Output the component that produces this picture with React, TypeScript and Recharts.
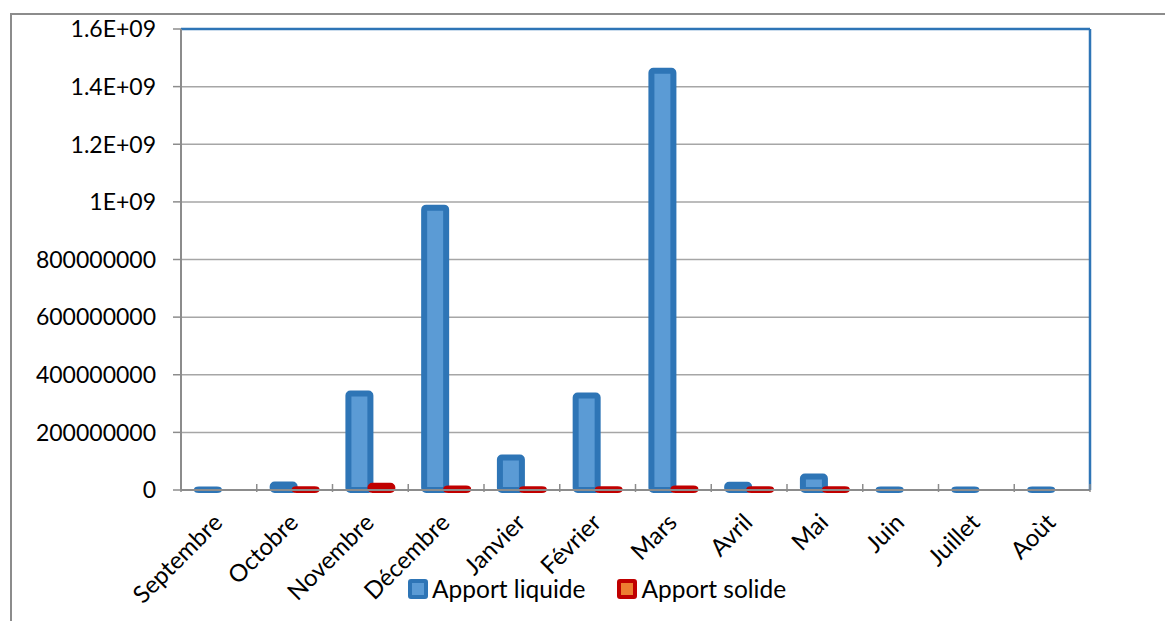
import React from 'react';
import { BarChart, Bar, XAxis, YAxis, CartesianGrid, ReferenceLine, Legend } from 'recharts';

// Monthly inflow volumes (liquid and solid)
const months = ['Septembre', 'Octobre', 'Novembre', 'Décembre', 'Janvier', 'Février', 'Mars', 'Avril', 'Mai', 'Juin', 'Juillet', 'Aoùt'];
const apportLiquide = [2e6, 1.9e7, 3.35e8, 9.8e8, 1.13e8, 3.28e8, 1.455e9, 1.8e7, 4.7e7, 2e6, 2e6, 2e6];
const apportSolide = [0, 3e6, 1.5e7, 5e6, 3e6, 3e6, 5e6, 3e6, 3e6, 0, 0, 0];

const seriesNames = ['Apport liquide', 'Apport solide'];
const seriesStroke = ['#2e75b6', '#c00000'];
const seriesFill = ['#5b9bd5', '#ed7d31'];

const yTicks = [0, 2e8, 4e8, 6e8, 8e8, 1e9, 1.2e9, 1.4e9, 1.6e9];
const yTickLabels = ['0', '200000000', '400000000', '600000000', '800000000', '1E+09', '1.2E+09', '1.4E+09', '1.6E+09'];

const data = months.map((m, i) => ({ month: m, liquide: apportLiquide[i], solide: apportSolide[i] }));

const FONT = 'Lato, "Open Sans", sans-serif';

const makeShape = (stroke: string, fill: string) => (props: any) => {
  const { x, y, width, height } = props;
  if (!height || height <= 0) return null;
  return (
    <rect x={x} y={y} width={width} height={height} rx={2} ry={2} fill={fill} stroke={stroke} strokeWidth={6} />
  );
};

const XTick = (props: any) => {
  const { x, y, payload, index } = props;
  const half = payload && payload.offset ? payload.offset : 37.9;
  const ty = y + 32;
  return (
    <g>
      <line x1={x - half} y1={y - 8} x2={x - half} y2={y} stroke="#8c8c8c" strokeWidth={1.5} />
      {index === months.length - 1 && (
        <line x1={x + half} y1={y - 8} x2={x + half} y2={y} stroke="#8c8c8c" strokeWidth={1.5} />
      )}
      <text
        x={x + 5}
        y={ty}
        transform={`rotate(-45, ${x + 5}, ${ty})`}
        textAnchor="end"
        fontFamily={FONT}
        fontSize={24}
        fill="#000"
      >
        {payload.value}
      </text>
    </g>
  );
};

const YTick = (props: any) => {
  const { x, y, payload } = props;
  const idx = yTicks.indexOf(payload.value);
  return (
    <text x={x} y={y} dy="0.36em" textAnchor="end" fontFamily={FONT} fontSize={23} fill="#000">
      {idx >= 0 ? yTickLabels[idx] : payload.value}
    </text>
  );
};

const LegendContent = () => (
  <div style={{ display: 'flex', alignItems: 'center', fontFamily: FONT, fontSize: 24.5, color: '#000' }}>
    {seriesNames.map((name, i) => (
      <div key={name} style={{ display: 'flex', alignItems: 'center', marginRight: i === 0 ? 32 : 0 }}>
        <span
          style={{
            display: 'inline-block',
            width: 12,
            height: 12,
            border: `4px solid ${seriesStroke[i]}`,
            borderRadius: 3,
            background: seriesFill[i],
            marginRight: 4,
          }}
        />
        <span>{name}</span>
      </div>
    ))}
  </div>
);

export default function App() {
  return (
    <div style={{ position: 'absolute', left: 0, top: 0, width: 1165, height: 621, background: '#fff' }}>
      <div
        style={{
          position: 'absolute',
          left: 10,
          top: 13,
          right: 0,
          bottom: 0,
          borderTop: '2px solid #8c8c8c',
          borderLeft: '2px solid #8c8c8c',
        }}
      />
      <div style={{ position: 'absolute', left: 0, top: 0 }}>
        <BarChart
          width={1165}
          height={621}
          data={data}
          margin={{ top: 29, right: 74, left: 0, bottom: 31 }}
          barCategoryGap="21%"
          barGap={0}
        >
          <CartesianGrid vertical={false} stroke="#a6a6a6" strokeWidth={1.5} />
          <XAxis
            dataKey="month"
            height={100}
            interval={0}
            tickLine={false}
            axisLine={{ stroke: '#8c8c8c', strokeWidth: 2 }}
            tick={<XTick />}
            tickSize={0}
          />
          <YAxis
            width={181}
            domain={[0, 1.6e9]}
            ticks={yTicks}
            interval={0}
            tickSize={8}
            tickMargin={17}
            tickLine={{ stroke: '#8c8c8c', strokeWidth: 1.5 }}
            axisLine={{ stroke: '#8c8c8c', strokeWidth: 2 }}
            tick={<YTick />}
          />
          <YAxis
            yAxisId="frame"
            orientation="right"
            width={1}
            domain={[0, 1.6e9]}
            tick={false}
            tickLine={false}
            axisLine={{ stroke: '#2e75b6', strokeWidth: 2.5 }}
          />
          <ReferenceLine y={1.6e9} stroke="#2e75b6" strokeWidth={2.5} />
          <Legend
            verticalAlign="middle"
            layout="horizontal"
            align="center"
            wrapperStyle={{ top: 574, left: 408, width: 'auto' }}
            content={<LegendContent />}
          />
          <Bar
            dataKey="liquide"
            name={seriesNames[0]}
            isAnimationActive={false}
            shape={makeShape(seriesStroke[0], seriesFill[0])}
          />
          <Bar
            dataKey="solide"
            name={seriesNames[1]}
            isAnimationActive={false}
            shape={makeShape(seriesStroke[1], seriesFill[1])}
          />
        </BarChart>
      </div>
    </div>
  );
}
